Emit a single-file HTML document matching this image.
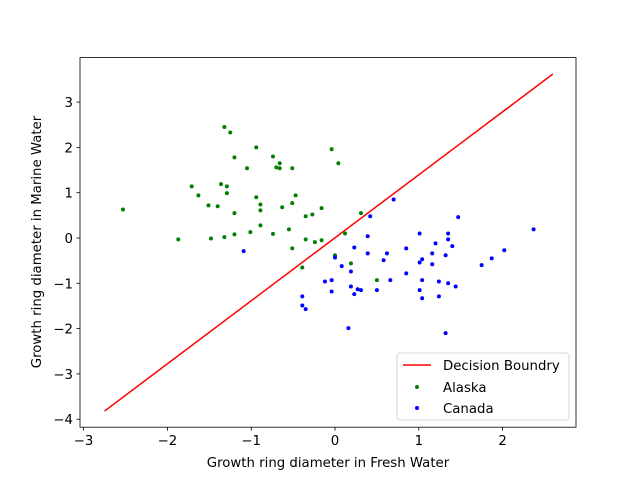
<!DOCTYPE html>
<html><head><meta charset="utf-8"><style>
body{margin:0;background:#fff}
svg{display:block;font-family:"DejaVu Sans","Liberation Sans",sans-serif}
</style></head><body>
<svg id="chart" width="640" height="480" xmlns="http://www.w3.org/2000/svg">
<rect width="640" height="480" fill="#fff"/>
<g id="marks"></g>
<rect x="80" y="57.6" width="496" height="369.6" fill="none" stroke="#000" stroke-width="0.8"/>
<g id="axes"></g>
<text x="328" y="467" font-size="13.3" text-anchor="middle">Growth ring diameter in Fresh Water</text>
<text transform="translate(41,242) rotate(-90)" font-size="13.3" text-anchor="middle">Growth ring diameter in Marine Water</text>
<g>
<rect x="397" y="353" width="172" height="67" rx="3" fill="#fff" fill-opacity="0.8" stroke="#ccc" stroke-width="0.8"/>
<line x1="403" y1="365" x2="431" y2="365" stroke="red" stroke-width="1.5"/>
<text x="443" y="370" font-size="13.3">Decision Boundry</text>
<circle cx="417" cy="387" r="2" fill="green"/>
<text x="443" y="392" font-size="13.3">Alaska</text>
<circle cx="417" cy="408" r="2" fill="blue"/>
<text x="443" y="413" font-size="13.3">Canada</text>
</g>
</svg>
<script>
const xTicks=[-3,-2,-1,0,1,2];
const yTicks=[-4,-3,-2,-1,0,1,2,3];
const boundaryX=[-2.75,2.6];
const boundaryY=[-3.82,3.62];
const alaskaX=[-1.32,-1.25,-0.94,-1.20,-0.74,-0.66,-0.70,-0.66,-0.51,-1.05,-0.04,0.04,-1.71,-1.36,-1.29,-1.29,-1.63,-1.51,-1.40,-0.94,-0.89,-0.89,-0.47,-0.51,-0.63,-0.16,-1.20,-0.35,-0.27,0.31,-2.53,-1.87,-1.48,-1.32,-1.20,-1.01,-0.89,-0.74,-0.55,-0.35,-0.24,-0.16,0.12,-0.51,0.00,0.19,-0.39,0.50];
const alaskaY=[2.45,2.33,2.00,1.78,1.80,1.65,1.56,1.54,1.54,1.54,1.96,1.65,1.14,1.19,1.14,0.99,0.94,0.72,0.70,0.90,0.74,0.61,0.94,0.77,0.68,0.66,0.55,0.48,0.52,0.55,0.63,-0.03,-0.01,0.02,0.08,0.13,0.28,0.09,0.19,-0.03,-0.09,-0.05,0.10,-0.23,-0.38,-0.56,-0.65,-0.93];
const canadaX=[-1.09,0.70,0.42,1.47,2.37,0.39,0.23,0.39,0.62,0.58,0.85,1.01,1.35,1.35,1.20,1.40,1.16,1.32,1.04,1.01,1.16,0.00,0.08,0.19,0.85,2.02,1.87,1.75,-0.12,-0.04,-0.04,0.19,0.27,0.31,0.23,0.50,0.66,1.04,1.24,1.35,1.44,1.01,1.04,1.24,-0.39,-0.39,-0.35,0.16,1.32];
const canadaY=[-0.29,0.85,0.48,0.46,0.19,0.04,-0.21,-0.34,-0.34,-0.49,-0.23,0.10,0.10,-0.03,-0.12,-0.18,-0.34,-0.38,-0.47,-0.54,-0.58,-0.43,-0.62,-0.74,-0.78,-0.27,-0.45,-0.60,-0.96,-0.93,-1.18,-1.07,-1.13,-1.15,-1.24,-1.15,-0.93,-0.93,-0.96,-1.00,-1.07,-1.15,-1.33,-1.29,-1.29,-1.49,-1.57,-1.99,-2.10];
const NS='http://www.w3.org/2000/svg';
function sx(v){return 335+v*83.8;}
function sy(v){return 238-v*45.3;}
const marks=document.getElementById('marks');
const axes=document.getElementById('axes');
function mk(tag,attrs,parent){const e=document.createElementNS(NS,tag);for(const k in attrs)e.setAttribute(k,attrs[k]);parent.appendChild(e);return e;}
const ln=mk('line',{x1:sx(boundaryX[0]),y1:sy(boundaryY[0]),x2:sx(boundaryX[1]),y2:sy(boundaryY[1]),stroke:'red','stroke-width':1.5},marks);


alaskaX.forEach((x,i)=>{const c=mk('circle',{cx:sx(x),cy:sy(alaskaY[i]),r:2,fill:'green'},marks);

});
canadaX.forEach((x,i)=>{const c=mk('circle',{cx:sx(x),cy:sy(canadaY[i]),r:2,fill:'blue'},marks);

});
xTicks.forEach(t=>{const x=sx(t);
const l=mk('line',{x1:x,y1:427.2,x2:x,y2:430.7,stroke:'#000','stroke-width':0.8},axes);


const tx=mk('text',{x:x,y:445,'font-size':13.3,'text-anchor':'middle'},axes);
tx.textContent=(t<0?'\u2212'+(-t):String(t));

});
yTicks.forEach(t=>{const y=sy(t);
const l=mk('line',{x1:76.5,y1:y,x2:80,y2:y,stroke:'#000','stroke-width':0.8},axes);


const tx=mk('text',{x:73,y:y+5,'font-size':13.3,'text-anchor':'end'},axes);
tx.textContent=(t<0?'\u2212'+(-t):String(t));

});
</script>
</body></html>
